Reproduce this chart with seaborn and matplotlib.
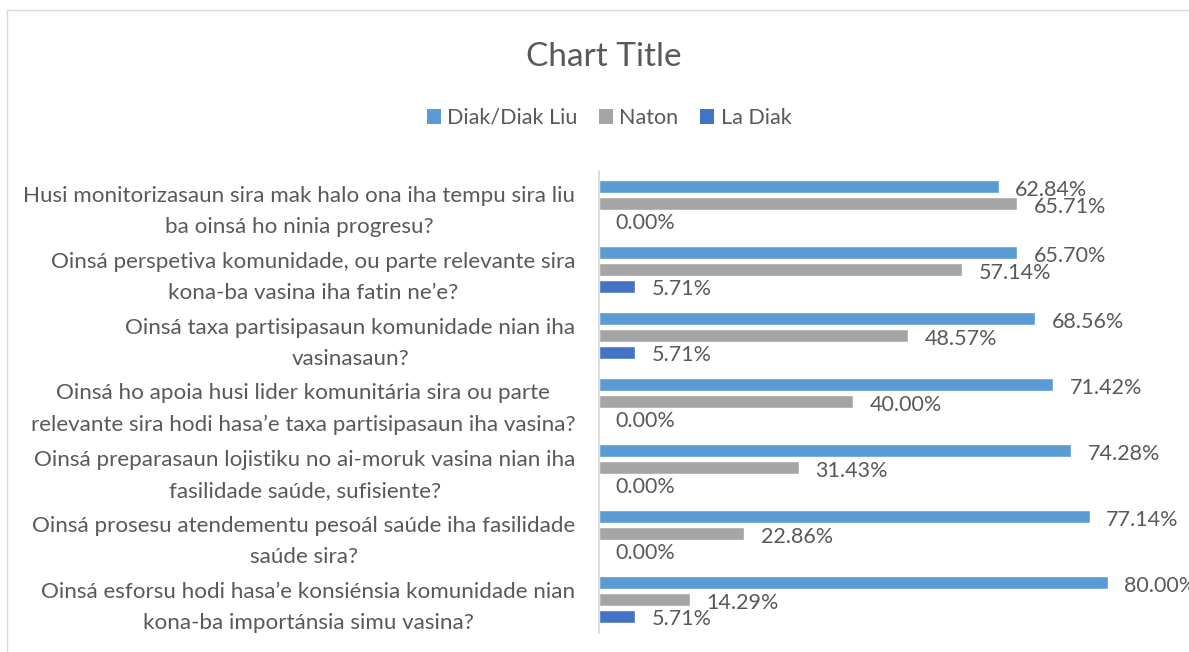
import matplotlib
matplotlib.use("Agg")
import matplotlib.pyplot as plt
import seaborn as sns
import pandas as pd
from matplotlib.patches import Rectangle, Patch

questions = [
    "Husi monitorizasaun sira mak halo ona iha tempu sira liu\nba oinsá ho ninia progresu?",
    "Oinsá perspetiva komunidade, ou parte relevante sira\nkona-ba vasina iha fatin ne’e?",
    "Oinsá taxa partisipasaun komunidade nian iha\nvasinasaun?",
    "Oinsá ho apoia husi lider komunitária sira ou parte\nrelevante sira hodi hasa’e taxa partisipasaun iha vasina?",
    "Oinsá preparasaun lojistiku no ai-moruk vasina nian iha\nfasilidade saúde, sufisiente?",
    "Oinsá prosesu atendementu pesoál saúde iha fasilidade\nsaúde sira?",
    "Oinsá esforsu hodi hasa’e konsiénsia komunidade nian\nkona-ba importánsia simu vasina?",
]
series_names = ["Diak/Diak Liu", "Naton", "La Diak"]
diak = [0.6284, 0.6570, 0.6856, 0.7142, 0.7428, 0.7714, 0.8000]
naton = [0.6571, 0.5714, 0.4857, 0.4000, 0.3143, 0.2286, 0.1429]
la_diak = [0.0, 0.0571, 0.0571, 0.0, 0.0, 0.0, 0.0571]
colors = ["#5B9BD5", "#A5A5A5", "#4472C4"]

rows = []
for name, vals in zip(series_names, [diak, naton, la_diak]):
    for q, v in zip(questions, vals):
        rows.append({"question": q, "value": v, "series": name})
df = pd.DataFrame(rows)

sns.set_theme(style="white")
plt.rcParams["font.family"] = ["Lato", "DejaVu Sans"]
TXT = "#595959"

W, H = 1189, 652
fig = plt.figure(figsize=(W / 100, H / 100), dpi=100)
fig.patch.set_facecolor("white")

# chart border
fig.patches.append(Rectangle((7 / W, -0.05), 1.2, (H - 10) / H + 0.05,
                             transform=fig.transFigure, fill=False,
                             edgecolor="#D9D9D9", linewidth=1.0))

ax_left, ax_right = 599, 599 + 0.9 * 636
ax_top, ax_bot = 170.5, 632.5
ax = fig.add_axes([ax_left / W, 1 - ax_bot / H, (ax_right - ax_left) / W, (ax_bot - ax_top) / H])

sns.barplot(data=df, y="question", x="value", hue="series", hue_order=series_names,
            order=questions, palette=colors, orient="h", width=0.76, gap=0.2,
            saturation=1, legend=False, ax=ax)

ax.set_xlim(0, 0.9)
ax.set_xticks([])
ax.set_xlabel("")
ax.set_ylabel("")
for s in ["top", "right", "bottom"]:
    ax.spines[s].set_visible(False)
ax.spines["left"].set_color("#D9D9D9")
ax.spines["left"].set_linewidth(1.2)
ax.tick_params(axis="y", length=0, pad=17, labelsize=16.1, labelcolor=TXT)
for lbl in ax.get_yticklabels():
    lbl.set_multialignment("center")
    lbl.set_linespacing(1.72)

for cont in ax.containers:
    for bar in cont:
        w = bar.get_width()
        yc = bar.get_y() + bar.get_height() / 2
        ax.annotate(f"{w * 100:.2f}%", xy=(w, yc), xytext=(12, -2.2),
                    textcoords="offset points", ha="left", va="center",
                    fontsize=15.5, color=TXT, annotation_clip=False)

fig.text(604 / W, 1 - 57 / H, "Chart Title", ha="center", va="center",
         fontsize=24, color=TXT)

handles = [Patch(facecolor=c, edgecolor="none") for c in colors]
fig.legend(handles, series_names, loc="center", bbox_to_anchor=(609 / W, 1 - 118 / H),
           ncol=3, frameon=False, fontsize=15.5, labelcolor=TXT,
           handlelength=0.65, handleheight=0.65, handletextpad=0.3, columnspacing=1.0)

fig.savefig("out.png", dpi=100, facecolor="white")
